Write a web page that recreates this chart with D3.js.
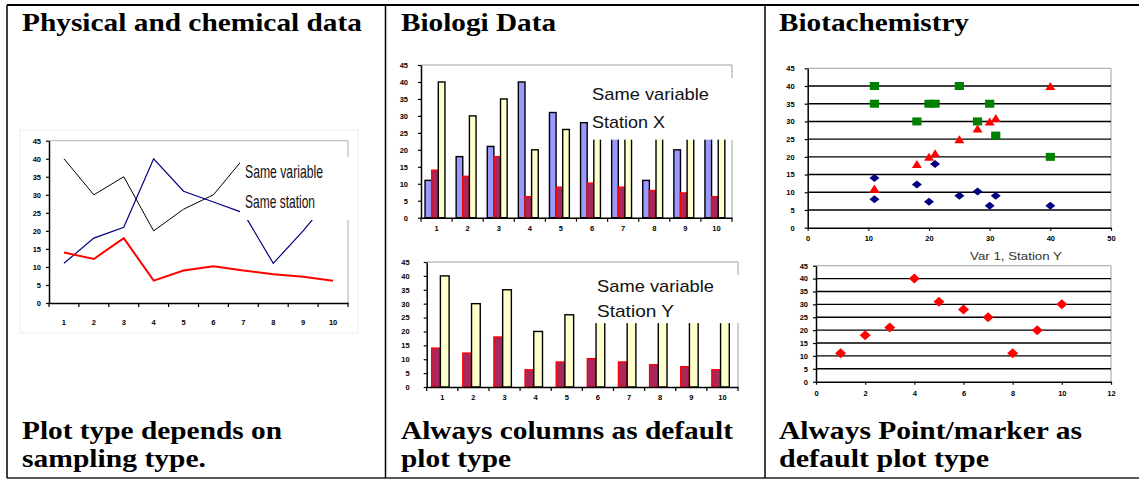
<!DOCTYPE html>
<html>
<head>
<meta charset="utf-8">
<script src="https://cdn.jsdelivr.net/npm/d3@7"></script>
<style>
  body { margin: 0; background: #fff; }
  .big { font-family: 'Liberation Serif', 'Times New Roman', serif; font-weight: bold; font-size: 26px; }
  .tk { font-family: 'Liberation Sans', Arial, sans-serif; font-weight: bold; font-size: 7.5px; }
  .note { font-family: 'Liberation Sans', Arial, sans-serif; }
</style>
</head>
<body>
<div id="chart"></div>
<script>
// ---- data ----
var categories = [1, 2, 3, 4, 5, 6, 7, 8, 9, 10];
var var1Values = [11, 18, 21, 40, 31, 28, 25, 11, 20, 30];          // blue
var var2Values = [14, 12.2, 18, 6.2, 9, 10.2, 9, 8, 7.3, 6.2];      // red
var var3Values = [40, 30, 35, 20, 26, 30, 40, 35, 35, 35];          // yellow / black
var yTicks = [0, 5, 10, 15, 20, 25, 30, 35, 40, 45];
var gridValues = [5, 10, 15, 20, 25, 30, 35, 40];
var scatterXTicks = [0, 10, 20, 30, 40, 50];
var indexXTicks = [0, 2, 4, 6, 8, 10, 12];

var headings = ['Physical and chemical data', 'Biologi Data', 'Biotachemistry'];
var footers = [
  ['Plot type depends on', 'sampling type.'],
  ['Always columns as default', 'plot type'],
  ['Always Point/marker as', 'default plot type']
];
var note1 = ['Same variable', 'Same station'];
var note2 = ['Same variable', 'Station X'];
var note3 = ['Same variable', 'Station Y'];
var scatterTitle = 'Var 1, Station Y';

// ---- layout ----
var W = 1139, H = 480;
var colLines = [7, 385.5, 765];
var textX = [22, 401, 779];
var headingWidths = [340, 155, 190];
var footerWidths = [[260, 184], [332, 110], [303, 210]];
var clipLevel = 23; // text boxes cover everything above this value

var svg = d3.select('#chart')
  .append('svg')
  .attr('width', W)
  .attr('height', H);

// table frame
svg.append('line').attr('x1', 7).attr('x2', W).attr('y1', 5).attr('y2', 5)
  .attr('stroke', '#000').attr('stroke-width', 2);
svg.append('line').attr('x1', 7).attr('x2', W).attr('y1', 478).attr('y2', 478)
  .attr('stroke', '#222').attr('stroke-width', 1.5);
colLines.forEach(function (x) {
  svg.append('line').attr('x1', x).attr('x2', x).attr('y1', 5).attr('y2', 478)
    .attr('stroke', '#000').attr('stroke-width', 1.5);
});

function bigText(str, x, y, w) {
  svg.append('text')
    .attr('class', 'big')
    .attr('x', x).attr('y', y)
    .attr('textLength', w).attr('lengthAdjust', 'spacingAndGlyphs')
    .attr('fill', '#000')
    .text(str);
}
headings.forEach(function (t, i) { bigText(t, textX[i], 31, headingWidths[i]); });
footers.forEach(function (lines, i) {
  bigText(lines[0], textX[i], 439, footerWidths[i][0]);
  bigText(lines[1], textX[i], 467, footerWidths[i][1]);
});

// ---- helpers ----
function styleAxis(g) {
  g.select('.domain').attr('stroke', '#000').attr('stroke-width', 1.5);
  g.selectAll('.tick line').attr('stroke', '#000').attr('stroke-width', 1.2);
  g.selectAll('.tick text').attr('class', 'tk').attr('fill', '#000');
}

function yAxis(scale, x, pad) {
  svg.append('g')
    .attr('transform', 'translate(' + x + ',0)')
    .call(d3.axisLeft(scale).tickValues(yTicks).tickSize(3).tickSizeOuter(0).tickPadding(pad))
    .call(styleAxis);
}

function categoryAxis(band, y, pad) {
  var g = svg.append('g')
    .attr('transform', 'translate(0,' + y + ')')
    .call(d3.axisBottom(band).tickSize(0).tickPadding(pad))
    .call(styleAxis);
  var edges = band.domain().map(function (c) { return band(c); }).concat([band.range()[1]]);
  g.selectAll('.edge')
    .data(edges)
    .enter()
    .append('line')
    .attr('x1', function (d) { return d; })
    .attr('x2', function (d) { return d; })
    .attr('y1', 0).attr('y2', 4)
    .attr('stroke', '#000').attr('stroke-width', 1.2);
}

function plotFrame(x0, x1, yTop, yBottom, color) {
  svg.append('path')
    .attr('d', 'M' + x0 + ',' + yTop + 'H' + x1 + 'V' + yBottom)
    .attr('fill', 'none').attr('stroke', color).attr('stroke-width', 1);
}

function noteBox(x, y, w, h, lines, tx, baselines, widths, size) {
  svg.append('rect')
    .attr('x', x).attr('y', y).attr('width', w).attr('height', h)
    .attr('fill', '#fff');
  lines.forEach(function (t, i) {
    svg.append('text')
      .attr('class', 'note')
      .attr('x', tx).attr('y', baselines[i])
      .attr('textLength', widths[i]).attr('lengthAdjust', 'spacingAndGlyphs')
      .style('font-size', size + 'px').attr('fill', '#111')
      .text(t);
  });
}

function diamond(w, h) {
  return 'M0,' + (-h) + 'L' + w + ',0L0,' + h + 'L' + (-w) + ',0Z';
}
function triangle(w, h) {
  return 'M0,' + (-h) + 'L' + w + ',' + h + 'L' + (-w) + ',' + h + 'Z';
}
function square(w, h) {
  return 'M' + (-w) + ',' + (-h) + 'H' + w + 'V' + h + 'H' + (-w) + 'Z';
}

// ---- panel 1: line chart ----
svg.append('rect')
  .attr('x', 20).attr('y', 130).attr('width', 338).attr('height', 203)
  .attr('fill', 'none').attr('stroke', '#ededed');

var x1 = d3.scaleBand().domain(categories).range([49, 348]);
var y1 = d3.scaleLinear().domain([0, 45]).range([303, 140.7]);
plotFrame(49, 348, y1(45), y1(0), '#b0b0b0');

var line1 = d3.line()
  .x(function (d, i) { return x1(categories[i]) + x1.bandwidth() / 2; })
  .y(function (d) { return y1(d); });

svg.append('path').attr('d', line1(var3Values))
  .attr('fill', 'none').attr('stroke', '#000').attr('stroke-width', 1);
svg.append('path').attr('d', line1(var1Values))
  .attr('fill', 'none').attr('stroke', '#000080').attr('stroke-width', 1.2);
svg.append('path').attr('d', line1(var2Values))
  .attr('fill', 'none').attr('stroke', '#ff0000').attr('stroke-width', 2);

yAxis(y1, 49, 5);
categoryAxis(x1, y1(0), 17);
noteBox(240, 157, 112, y1(clipLevel) - 157, note1, 245, [178, 208], [78, 70], 19);

// ---- panel 2: columns, station X ----
var x2 = d3.scaleBand().domain(categories).range([421, 732]);
var y2 = d3.scaleLinear().domain([0, 45]).range([217.7, 65]);
var sub2 = d3.scaleBand().domain(['v1', 'v2', 'v3'])
  .range([x2.bandwidth() * 0.13, x2.bandwidth() * 0.77]);
plotFrame(421, 732, y2(45), y2(0), '#a0a0a0');

var barStyles = {
  v1: { values: var1Values, fill: '#9999ff', stroke: '#000' },
  v2: { values: var2Values, fill: '#a8285c', stroke: '#ff0000' },
  v3: { values: var3Values, fill: '#ffffcc', stroke: '#000' }
};

function drawBars(xs, ys, sub) {
  sub.domain().forEach(function (key) {
    var s = barStyles[key];
    svg.append('g').selectAll('rect')
      .data(s.values)
      .enter()
      .append('rect')
      .attr('x', function (d, i) { return xs(categories[i]) + sub(key); })
      .attr('y', function (d) { return ys(d); })
      .attr('width', sub.bandwidth())
      .attr('height', function (d) { return ys(0) - ys(d); })
      .attr('fill', s.fill)
      .attr('stroke', s.stroke)
      .attr('stroke-width', 1.4);
  });
}

drawBars(x2, y2, sub2);
yAxis(y2, 421, 10);
categoryAxis(x2, y2(0), 8);
noteBox(590, 78, 152, y2(clipLevel) - 78, note2, 592, [100, 128], [117, 73], 17);

// ---- panel 3: columns, station Y ----
var x3 = d3.scaleBand().domain(categories).range([426.7, 738]);
var y3 = d3.scaleLinear().domain([0, 45]).range([387, 262]);
var sub3 = d3.scaleBand().domain(['v2', 'v3'])
  .range([x3.bandwidth() * 0.16, x3.bandwidth() * 0.72]);
plotFrame(426.7, 738, y3(45), y3(0), '#a0a0a0');

drawBars(x3, y3, sub3);
yAxis(y3, 426.7, 14);
categoryAxis(x3, y3(0), 8);
noteBox(591, 275, 154, y3(clipLevel) - 275, note3, 597, [292, 317], [117, 77], 17);

// ---- panel 4: scatter vs var 1 ----
var x4 = d3.scaleLinear().domain([0, 50]).range([807.7, 1111]);
var y4 = d3.scaleLinear().domain([0, 45]).range([227.7, 68.3]);

function scatterFrame(xs, ys, xTicks, padY, padX) {
  plotFrame(xs.range()[0], xs.range()[1], ys(45), ys(0), '#a0a0a0');
  svg.append('g').selectAll('line')
    .data(gridValues)
    .enter()
    .append('line')
    .attr('x1', xs.range()[0]).attr('x2', xs.range()[1])
    .attr('y1', function (d) { return ys(d); })
    .attr('y2', function (d) { return ys(d); })
    .attr('stroke', '#000').attr('stroke-width', 1.4);
  yAxis(ys, xs.range()[0], padY);
  svg.append('g')
    .attr('transform', 'translate(0,' + ys(0) + ')')
    .call(d3.axisBottom(xs).tickValues(xTicks).tickSize(3).tickSizeOuter(0).tickPadding(padX))
    .call(styleAxis);
}

scatterFrame(x4, y4, scatterXTicks, 10, 5);

function markers(xVals, yVals, xs, ys, pathD, color) {
  svg.append('g').selectAll('path')
    .data(xVals)
    .enter()
    .append('path')
    .attr('transform', function (d, i) {
      return 'translate(' + xs(d) + ',' + ys(yVals[i]) + ')';
    })
    .attr('d', pathD)
    .attr('fill', color);
}

markers(var1Values, var3Values, x4, y4, square(4.6, 4), '#008000');
markers(var1Values, var1Values, x4, y4, triangle(5, 4), '#ff0000');
markers(var1Values, var2Values, x4, y4, diamond(5, 4), '#000080');

svg.append('text')
  .attr('class', 'note')
  .attr('x', 970).attr('y', 260)
  .attr('textLength', 92).attr('lengthAdjust', 'spacingAndGlyphs')
  .style('font-size', '11px').attr('fill', '#333')
  .text(scatterTitle);

// ---- panel 5: var 1 vs sample number ----
var x5 = d3.scaleLinear().domain([0, 12]).range([816, 1111]);
var y5 = d3.scaleLinear().domain([0, 45]).range([381.7, 265.7]);

scatterFrame(x5, y5, indexXTicks, 5, 6);
markers(categories, var1Values, x5, y5, diamond(5.5, 5), '#ff0000');
</script>
</body>
</html>
